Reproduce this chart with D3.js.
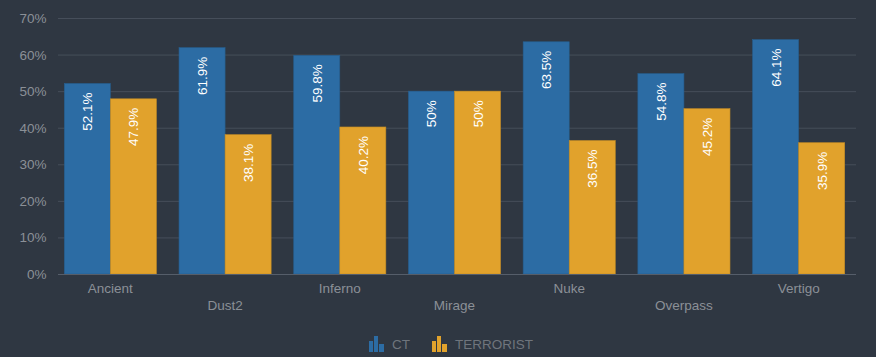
<!DOCTYPE html>
<html><head><meta charset="utf-8">
<script src="https://cdn.jsdelivr.net/npm/d3@7"></script>
<style>
html,body{margin:0;padding:0;background:#2f3742;}
svg{display:block;font-family:"Liberation Sans",Arial,sans-serif;}
</style></head><body>
<svg id="c" width="876" height="357"></svg>
<script>
const categories = ["Ancient","Dust2","Inferno","Mirage","Nuke","Overpass","Vertigo"];
const seriesNames = ["CT","TERRORIST"];
const ctValues = [52.1,61.9,59.8,50,63.5,54.8,64.1];
const tValues = [47.9,38.1,40.2,50,36.5,45.2,35.9];
const yTicks = [0,10,20,30,40,50,60,70];
const colors = ["#2c6ca4","#e1a22c"];

const svg = d3.select("#c");
const m = {l:53, r:20, t:18, b:83};
const W = 876, H = 357;
const x0 = d3.scaleBand().domain(categories).range([m.l, W-m.r]);
const y = d3.scaleLinear().domain([0,70]).range([H-m.b, m.t]);

// grid
svg.append("g").selectAll("line").data(yTicks).join("line")
  .attr("x1", m.l+5).attr("x2", W-m.r).attr("y1", d=>y(d)+0.5).attr("y2", d=>y(d)+0.5)
  .attr("stroke","#464e5a").attr("stroke-width",1);
svg.append("g").selectAll("text").data(yTicks).join("text")
  .attr("x", 46.5).attr("y", d=>y(d)+5).attr("text-anchor","end")
  .attr("fill","#8b9097").attr("font-size",13.5).text(d=>d+"%");

const data = [ctValues, tValues];
const groupPad = 11.3;
data.forEach((vals, si) => {
  const g = svg.append("g");
  vals.forEach((v, i) => {
    const gx = x0(categories[i]) + groupPad;
    const bw = (x0.bandwidth() - 2*groupPad)/2;
    const bx = gx + si*bw;
    g.append("rect").attr("x", bx).attr("y", y(v)).attr("width", bw).attr("height", y(0)-y(v))
      .attr("fill", colors[si]).attr("stroke", d3.color(colors[si]).darker(0.4)).attr("stroke-width",0.6);
    g.append("text").attr("transform", `translate(${bx+bw/2+5},${y(v)+9}) rotate(-90)`)
      .attr("fill","#fff").attr("font-size",13.5).attr("text-anchor","end")
      .text(v+"%");
  });
});

// baseline
svg.append("line").attr("x1", m.l+5).attr("x2", W-m.r).attr("y1", y(0)+0.5).attr("y2", y(0)+0.5)
  .attr("stroke","#565e6a");

// x labels
svg.append("g").selectAll("text").data(categories).join("text")
  .attr("x", d=>x0(d)+x0.bandwidth()/2).attr("y", (d,i)=> i%2===0 ? 293 : 310)
  .attr("text-anchor","middle").attr("fill","#8b9097").attr("font-size",13.5).text(d=>d);

// legend
const leg = svg.append("g");
const items = [{n:seriesNames[0], c:colors[0], x:369}, {n:seriesNames[1], c:colors[1], x:432}];
items.forEach(it => {
  const gi = leg.append("g").attr("transform", `translate(${it.x},336)`);
  [[0,5,4,11],[5,0,4,16],[10,8,5,8]].forEach(([dx,dy,w,h]) => {
    gi.append("rect").attr("x",dx).attr("y",dy).attr("width",w).attr("height",h).attr("fill",it.c);
  });
  gi.append("text").attr("x", 23).attr("y", 13).attr("fill","#6f757d").attr("font-size",13.5).text(it.n);
});
</script>
</body></html>
